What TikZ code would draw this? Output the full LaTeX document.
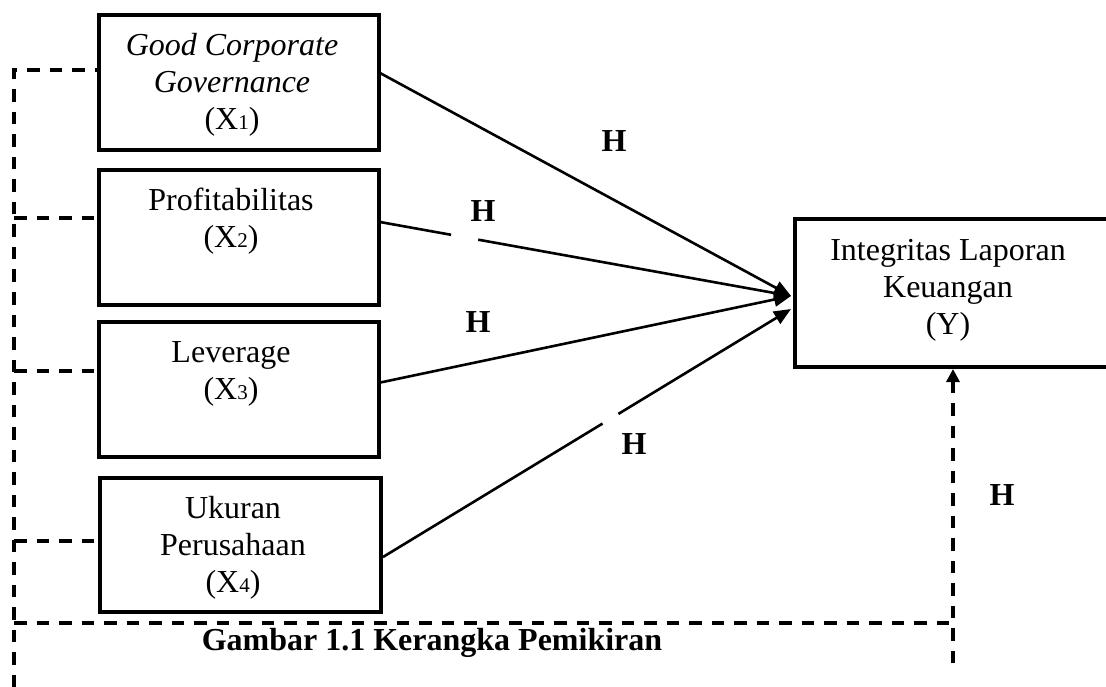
\documentclass[tikz,border=0pt]{standalone}
\usepackage{fontspec}
\setmainfont{Liberation Serif}
\usetikzlibrary{arrows.meta,calc}
\newcommand{\subdig}[1]{{\fontsize{21}{21}\selectfont #1}}
\begin{document}
\begin{tikzpicture}[x=1pt,y=-1pt,
  box/.style={draw,line width=4pt,rectangle,inner sep=0pt},
  txt/.style={anchor=north,inner sep=0pt,align=center,font=\fontsize{32}{37}\selectfont},
  conn/.style={line width=2.6pt},
  tipA/.style={-{Triangle[length=17pt,width=14pt]}},
  tipB/.style={-{Triangle[length=13pt,width=13pt]}},
  dashline/.style={line width=3.2pt,dash pattern=on 12.5pt off 10pt},
  hlab/.style={font=\fontsize{32}{37}\selectfont\bfseries,inner sep=0pt,anchor=base}]
\useasboundingbox (0,0) rectangle (1106,687);
% boxes
\node[box,minimum width=280.5pt,minimum height=135pt] (b1) at (238.75,83) {};
\node[box,minimum width=280.5pt,minimum height=134.5pt] (b2) at (238.75,237.75) {};
\node[box,minimum width=280.5pt,minimum height=135pt] (b3) at (238.75,389.5) {};
\node[box,minimum width=281pt,minimum height=134.5pt] (b4) at (240.5,544.75) {};
\node[box,minimum width=330pt,minimum height=147.5pt] (yb) at (960,292.75) {};
% texts
\node[txt] (t1) at (232,31) {\rule{0pt}{24pt}\textit{Good Corporate}\\\textit{Governance}\\(X\subdig{1})};
\node[txt] (t2) at (231,186) {\rule{0pt}{24pt}Profitabilitas\\(X\subdig{2})};
\node[txt] (t3) at (231,338) {\rule{0pt}{24pt}Leverage\\(X\subdig{3})};
\node[txt] (t4) at (233,494) {\rule{0pt}{24pt}Ukuran\\Perusahaan\\(X\subdig{4})};
\node[txt] (ty) at (948,236) {\rule{0pt}{24pt}Integritas Laporan\\Keuangan\\(Y)};
% connector endpoints
\coordinate (s1) at (380,73);
\coordinate (s2) at (380,222);
\coordinate (s3) at (378,383);
\coordinate (s4) at (383,557);
\coordinate (tA) at (791,296);
\coordinate (tB) at (791,309);
% arrows
\draw[conn,tipA] (s1) -- (tA);
\draw[conn] (s2) -- ($(s2)!0.173!(tA)$);
\draw[conn,tipA] ($(s2)!0.239!(tA)$) -- (tA);
\draw[conn,tipA] (s3) -- (tA);
\draw[conn] (s4) -- ($(s4)!0.538!(tB)$);
\draw[conn,tipA] ($(s4)!0.577!(tB)$) -- (tB);
% dashed lines
\coordinate (dl0) at (14,687);
\coordinate (dl1) at (14,70);
\draw[dashline] (dl0) -- (dl1) -- (97,70);
\draw[dashline] (14,218) -- (97,218);
\draw[dashline] (14,371) -- (97,371);
\draw[dashline] (14,541) -- (98,541);
\draw[dashline] (14,623) -- (951,623);
\coordinate (vb) at (953,663);
\coordinate (vt) at (953,369);
\draw[dashline,tipB] (vb) -- (vt);
% labels
\node[hlab] (h1) at (614,152) {H};
\node[hlab] (h2) at (483,222) {H};
\node[hlab] (h3) at (478,332) {H};
\node[hlab] (h4) at (634,454) {H};
\node[hlab] (h5) at (1002,505) {H};
\node[hlab] (cap) at (432,650) {Gambar 1.1 Kerangka Pemikiran};
\end{tikzpicture}
\end{document}
